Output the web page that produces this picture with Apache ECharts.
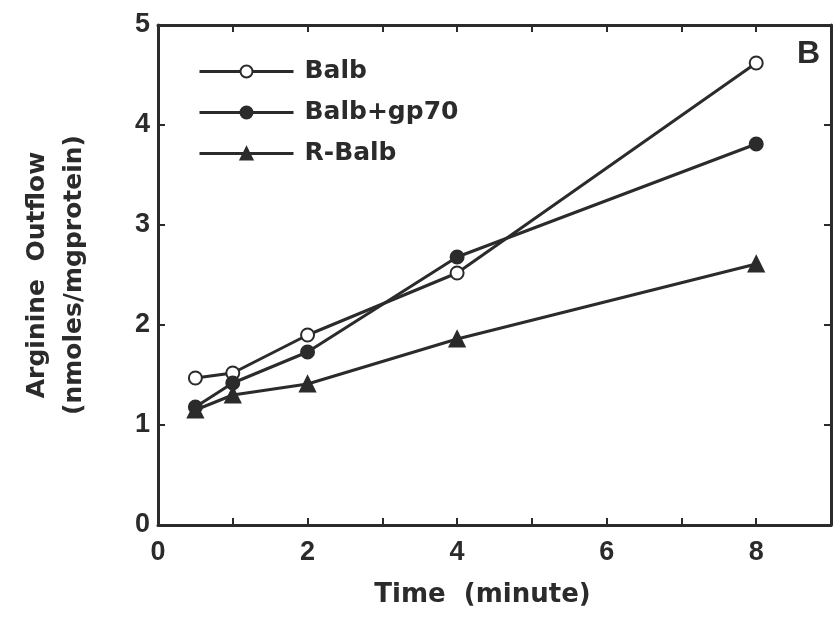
<!DOCTYPE html>
<html>
<head>
<meta charset="utf-8">
<script src="https://cdn.jsdelivr.net/npm/echarts@6/dist/echarts.min.js"></script>
<style>
  html, body { margin: 0; padding: 0; background: #fff; }
  #chart { width: 833px; height: 623px; }
</style>
</head>
<body>
<div id="chart"></div>
<script>
// time points (minute)
var times = [0.5, 1, 2, 4, 8];
var balb = [1.47, 1.52, 1.9, 2.52, 4.62];
var balbGp70 = [1.18, 1.42, 1.73, 2.68, 3.81];
var rBalb = [1.15, 1.3, 1.41, 1.86, 2.61];
var seriesNames = ['Balb', 'Balb+gp70', 'R-Balb'];

var ink = '#2b2b2b';
var font = '"Liberation Sans", Arial, sans-serif';
var wideFont = '"DejaVu Sans", "Liberation Sans", sans-serif';

function pairs(ys) {
  return times.map(function (t, i) { return [t, ys[i]]; });
}

function lineSeries(name, ys, symbol, fill) {
  return {
    name: name,
    type: 'line',
    data: pairs(ys),
    symbol: symbol,
    symbolSize: symbol == 'triangle' ? 15 : 13,
    lineStyle: { color: ink, width: 3 },
    itemStyle: { color: fill, borderColor: ink, borderWidth: 2 },
    emphasis: { disabled: true },
    animation: false
  };
}

// frame axes (top / right) only carry inward ticks
function frameAxis(pos, max) {
  return {
    type: 'value',
    position: pos,
    min: 0,
    max: max,
    interval: 1,
    axisLine: { show: true, onZero: false, lineStyle: { color: ink, width: 3 } },
    axisTick: { show: true, inside: true, length: 7, lineStyle: { color: ink, width: 2 } },
    axisLabel: { show: false },
    splitLine: { show: false }
  };
}

var chart = echarts.init(document.getElementById('chart'), null, { renderer: 'canvas' });

var option = {
  backgroundColor: '#fff',
  animation: false,
  title: {
    text: 'B',
    left: 792,
    top: 33,
    textStyle: { fontFamily: font, fontWeight: 'bold', fontSize: 32, color: ink }
  },
  legend: {
    orient: 'vertical',
    left: 193,
    top: 54,
    itemWidth: 94,
    itemHeight: 15,
    itemGap: 16,
    data: seriesNames,
    lineStyle: { width: 3 },
    textStyle: { fontFamily: wideFont, fontWeight: 'bold', fontSize: 25, color: ink, padding: [0, 0, 0, 6] }
  },
  grid: { left: 158, top: 25, right: 2, bottom: 98, containLabel: false, outerBoundsMode: 'none' },
  xAxis: [{
    type: 'value',
    min: 0,
    max: 9,
    interval: 1,
    name: 'Time  (minute)',
    nameLocation: 'middle',
    nameGap: 57,
    nameTextStyle: { fontFamily: wideFont, fontWeight: 'bold', fontSize: 26, color: ink, padding: [0, 24, 0, 0] },
    axisLine: { onZero: false, lineStyle: { color: ink, width: 3 } },
    axisTick: { inside: true, length: 7, lineStyle: { color: ink, width: 2 } },
    axisLabel: {
      fontFamily: font, fontWeight: 'bold', fontSize: 27, color: ink, margin: 14,
      formatter: function (v) { return (v % 2 === 0 && v < 9) ? v : ''; }
    },
    splitLine: { show: false }
  }, frameAxis('top', 9)],
  yAxis: [{
    type: 'value',
    min: 0,
    max: 5,
    interval: 1,
    name: 'Arginine  Outflow\n(nmoles/mgprotein)',
    nameLocation: 'middle',
    nameGap: 65,
    nameTextStyle: { fontFamily: wideFont, fontWeight: 'bold', fontSize: 25, color: ink, lineHeight: 37 },
    axisLine: { onZero: false, lineStyle: { color: ink, width: 3 } },
    axisTick: { inside: true, length: 7, lineStyle: { color: ink, width: 2 } },
    axisLabel: { fontFamily: font, fontWeight: 'bold', fontSize: 27, color: ink, margin: 8 },
    splitLine: { show: false }
  }, frameAxis('right', 5)],
  series: [
    lineSeries(seriesNames[0], balb, 'circle', '#fff'),
    lineSeries(seriesNames[1], balbGp70, 'circle', ink),
    lineSeries(seriesNames[2], rBalb, 'triangle', ink)
  ]
};

chart.setOption(option);
</script>
</body>
</html>
